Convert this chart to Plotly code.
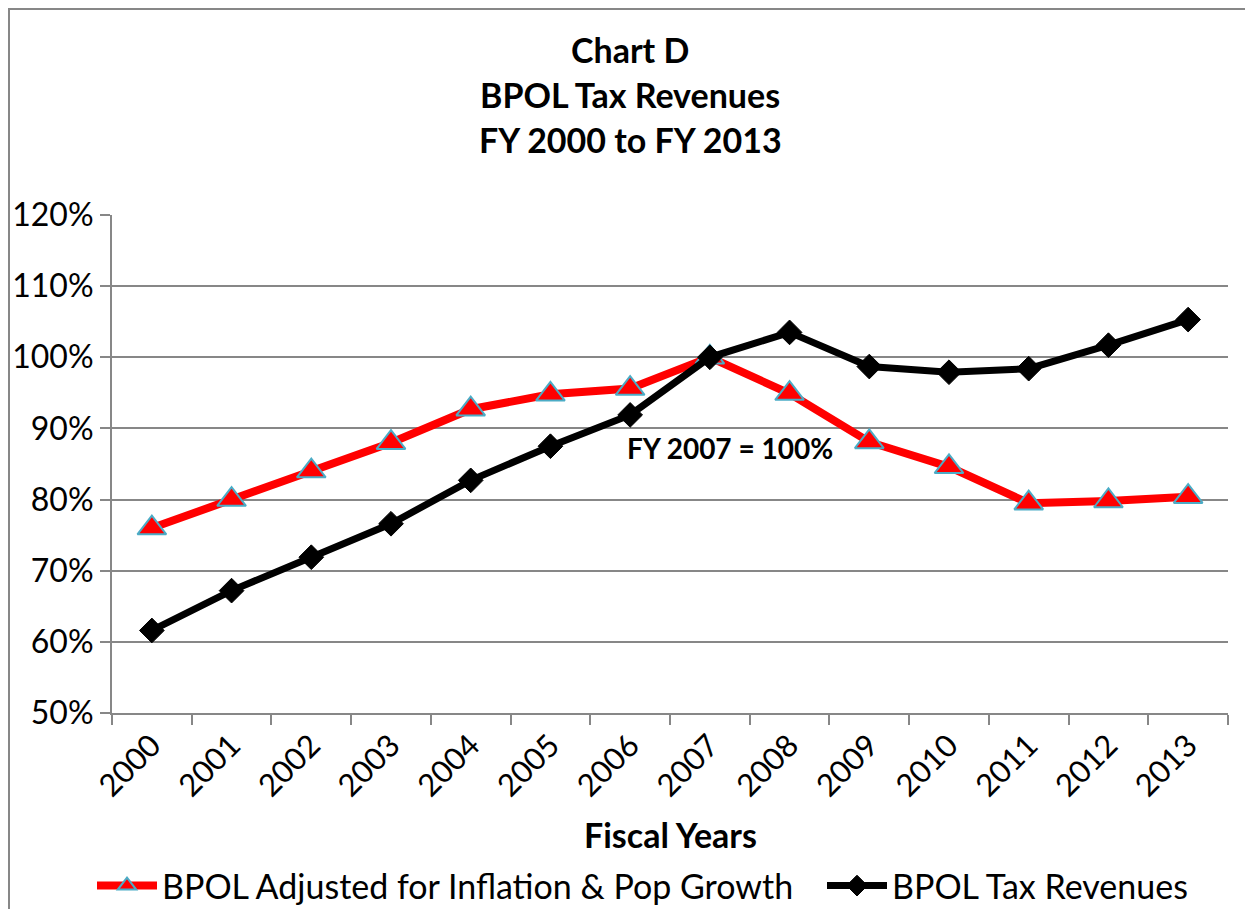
import plotly.graph_objects as go

years = ["2000", "2001", "2002", "2003", "2004", "2005", "2006",
         "2007", "2008", "2009", "2010", "2011", "2012", "2013"]
adjusted = [76.0, 80.0, 84.0, 88.0, 92.7, 94.8, 95.6,
            100.0, 94.9, 88.1, 84.6, 79.5, 79.8, 80.4]
revenues = [61.6, 67.2, 71.9, 76.6, 82.7, 87.5, 91.9,
            100.0, 103.5, 98.7, 97.9, 98.4, 101.7, 105.3]

FONT = "Lato"
GRAY = "#878787"

fig = go.Figure()
fig.add_trace(go.Scatter(
    x=years, y=adjusted, mode="lines+markers",
    name="BPOL Adjusted for Inflation & Pop Growth",
    line=dict(color="#FF0000", width=8),
    marker=dict(symbol="triangle-up", size=25, color="#FF0000",
                line=dict(color="#4BACC6", width=2)),
    legend="legend",
))
fig.add_trace(go.Scatter(
    x=years, y=revenues, mode="lines+markers",
    name="BPOL Tax Revenues",
    line=dict(color="#000000", width=7),
    marker=dict(symbol="diamond", size=19, color="#000000",
                line=dict(color="#000000", width=1)),
    legend="legend2",
))

# page has 8px body margin; work in page pixels and convert
OFF = 8
W, H = 1245, 901
PL, PR, PT, PB = 112, 1228, 215, 713  # plot area in page pixels
L = PL - OFF
T = PT - OFF
R = W - (PR - OFF)
B = H - (PB - OFF)
pw = PR - PL
ph = PB - PT

def px(x):
    return (x - PL) / pw

def py(y):
    return (PB - y) / ph

leg_common = dict(orientation="h", xanchor="left", yanchor="middle",
                  y=py(886), font=dict(size=34, family=FONT),
                  itemwidth=60, bgcolor="rgba(0,0,0,0)")

fig.update_layout(
    width=W, height=H,
    margin=dict(l=L, r=R, t=T, b=B, autoexpand=False),
    paper_bgcolor="white", plot_bgcolor="white",
    font=dict(family=FONT, color="black", size=32),
    showlegend=True,
    legend=dict(x=px(92), **leg_common),
    legend2=dict(x=px(822), **leg_common),
    xaxis=dict(type="category", range=[-0.5, len(years) - 0.5],
               autorange=False, showgrid=False, showline=True,
               linecolor=GRAY, linewidth=2, ticks="outside",
               tickson="boundaries", ticklen=10, tickcolor=GRAY,
               tickwidth=2, tickangle=-45,
               tickfont=dict(size=31, family=FONT), zeroline=False),
    yaxis=dict(range=[50, 120], dtick=10, ticksuffix="%",
               showgrid=True, gridcolor=GRAY, gridwidth=2,
               showline=True, linecolor=GRAY, linewidth=2,
               ticks="outside", ticklen=10, tickcolor=GRAY, tickwidth=2,
               tickfont=dict(size=32, family=FONT), zeroline=False),
)

title_lines = ["Chart D", "BPOL Tax Revenues", "FY 2000 to FY 2013"]
title_y = [49, 95, 140]
for t, yy in zip(title_lines, title_y):
    fig.add_annotation(text="<b>%s</b>" % t, xref="paper", yref="paper",
                       x=px(630), y=py(yy), xanchor="center",
                       yanchor="middle", showarrow=False,
                       font=dict(size=34, family=FONT, color="black"))

fig.add_annotation(text="<b>FY 2007 = 100%</b>", xref="paper", yref="paper",
                   x=px(730), y=py(448), xanchor="center", yanchor="middle",
                   showarrow=False, font=dict(size=28, family=FONT))

fig.add_annotation(text="<b>Fiscal Years</b>", xref="paper", yref="paper",
                   x=px(670), y=py(834), xanchor="center", yanchor="middle",
                   showarrow=False, font=dict(size=34, family=FONT))

# outer chart frame (left and top edges visible)
fig.add_shape(type="rect", xref="paper", yref="paper",
              x0=px(9), x1=px(1290), y0=py(960), y1=py(9),
              line=dict(color=GRAY, width=2), layer="below")

fig.write_html("out.html")
